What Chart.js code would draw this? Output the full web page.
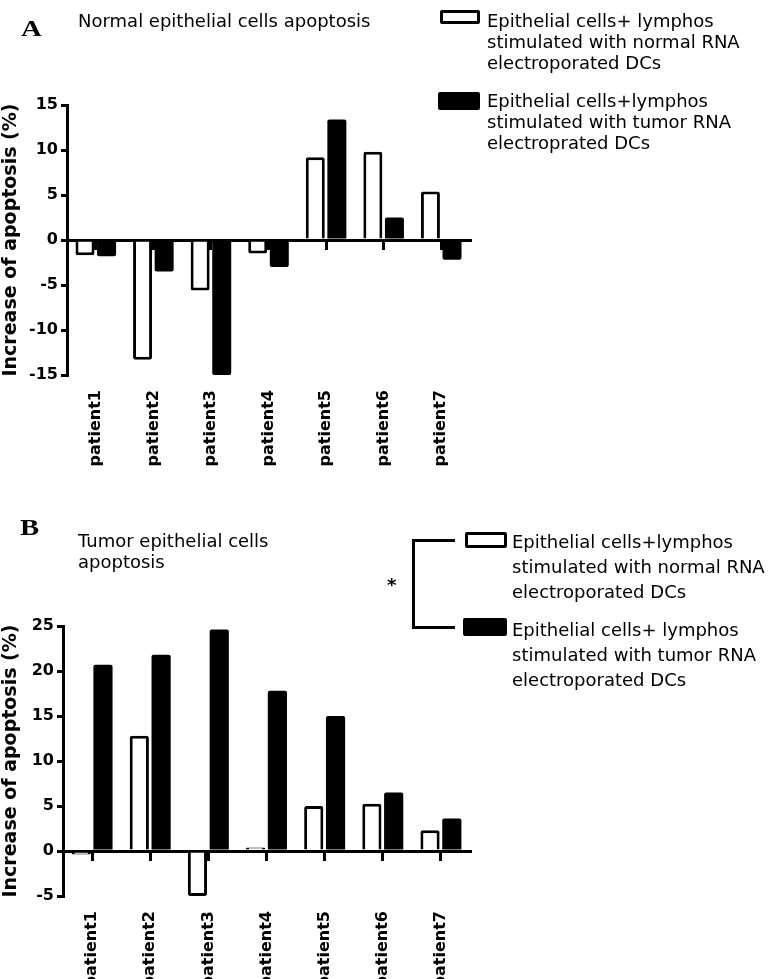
<!DOCTYPE html>
<html>
<head>
<meta charset="utf-8">
<script src="https://cdn.jsdelivr.net/npm/chart.js@4.4.1/dist/chart.umd.min.js"></script>
<style>
  body { margin: 0; background: #fff; }
  #page { position: relative; width: 774px; height: 979px; overflow: hidden; font-family: 'DejaVu Sans', sans-serif; color: #000; }
  .abs { position: absolute; }
  .letra { font-family: 'Liberation Serif', serif; font-weight: bold; font-size: 23px; line-height: 24px; transform: scaleX(1.25); transform-origin: left top; }
  .titulo { font-size: 18px; line-height: 21px; white-space: nowrap; }
  .leyenda { font-size: 18px; white-space: nowrap; }
  .caja { position: absolute; box-sizing: border-box; border: 3px solid #000; border-radius: 2px; background: #fff; }
  .caja.negra { background: #000; }
  .linea { position: absolute; background: #000; }
</style>
</head>
<body>
<div id="page">
  <div class="abs" style="left:0;top:0;width:774px;height:480px;"><canvas id="graficoA"></canvas></div>
  <div class="abs" style="left:0;top:500px;width:774px;height:479px;"><canvas id="graficoB"></canvas></div>

  <!-- Panel A -->
  <div class="abs letra" style="left:21px;top:17px;">A</div>
  <div class="abs titulo" style="left:78px;top:10px;">Normal epithelial cells apoptosis</div>
  <div class="caja" style="left:440px;top:10px;width:40px;height:14px;"></div>
  <div class="abs leyenda" style="left:487px;top:10px;line-height:21px;">Epithelial cells+ lymphos<br>stimulated with normal RNA<br>electroporated DCs</div>
  <div class="caja negra" style="left:438px;top:92px;width:42px;height:18px;"></div>
  <div class="abs leyenda" style="left:487px;top:90px;line-height:21px;">Epithelial cells+lymphos<br>stimulated with tumor RNA<br>electroprated DCs</div>

  <!-- Panel B -->
  <div class="abs letra" style="left:20px;top:516px;">B</div>
  <div class="abs titulo" style="left:78px;top:530px;">Tumor epithelial cells<br>apoptosis</div>
  <div class="linea" style="left:412px;top:539px;width:3px;height:90px;"></div>
  <div class="linea" style="left:412px;top:539px;width:43px;height:3px;"></div>
  <div class="linea" style="left:412px;top:626px;width:43px;height:3px;"></div>
  <div class="abs" style="left:387px;top:574px;font-size:18px;font-weight:bold;">*</div>
  <div class="caja" style="left:465px;top:532px;width:42px;height:16px;"></div>
  <div class="abs leyenda" style="left:512px;top:529px;line-height:25px;">Epithelial cells+lymphos<br>stimulated with normal RNA<br>electroporated DCs</div>
  <div class="caja negra" style="left:463px;top:618px;width:44px;height:18px;"></div>
  <div class="abs leyenda" style="left:512px;top:617px;line-height:25px;">Epithelial cells+ lymphos<br>stimulated with tumor RNA<br>electroporated DCs</div>
</div>

<script>
//---------------
// Datos
//---------------
const pacientes = ["patient1", "patient2", "patient3", "patient4", "patient5", "patient6", "patient7"];

// Panel A: apoptosis de células epiteliales normales
const normalesConARNNormal = [-1.7, -13.3, -5.6, -1.5, 9.2, 9.8, 5.4];
const normalesConARNTumor = [-1.8, -3.5, -15, -3.0, 13.4, 2.5, -2.2];

// Panel B: apoptosis de células epiteliales tumorales
const tumoralesConARNNormal = [-0.4, 12.8, -5.0, 0.4, 5.0, 5.25, 2.3];
const tumoralesConARNTumor = [20.7, 21.8, 24.6, 17.8, 15.0, 6.5, 3.6];

const ejeA = { min: -15, max: 15, paso: 5 };
const ejeB = { min: -5, max: 25, paso: 5 };

Chart.defaults.font.family = "'DejaVu Sans', sans-serif";
Chart.defaults.color = "#000";

//---------------
// Crear gráfico de barras
//---------------
function crearGrafico(id, blancas, negras, eje, caja) {
  return new Chart(document.getElementById(id), {
    type: 'bar',
    data: {
      labels: pacientes,
      datasets: [
        { data: blancas, xAxisID: 'x', backgroundColor: '#fff', borderColor: '#000', borderWidth: 3, borderRadius: 2,
          categoryPercentage: 0.75, barPercentage: 0.88 },
        { data: negras, xAxisID: 'x', backgroundColor: '#000', borderColor: '#000', borderWidth: 0, borderRadius: 2,
          categoryPercentage: 0.75, barPercentage: 0.88 }
      ]
    },
    options: {
      responsive: true,
      maintainAspectRatio: false,
      animation: false,
      layout: { padding: { left: 0, top: caja.arriba, right: caja.derecha, bottom: 0 } },
      plugins: { legend: { display: false }, tooltip: { enabled: false } },
      scales: {
        x: {
          type: 'category',
          offset: true,
          grid: { display: false, drawTicks: false },
          border: { display: false },
          ticks: { font: { size: 16, weight: 'bold' }, color: '#000', padding: 15, minRotation: 90, maxRotation: 90, autoSkip: false },
          afterFit: s => { s.height = caja.abajo; }
        },
        // línea del cero con marcas de categoría
        x2: {
          type: 'category',
          position: { y: 0 },
          offset: true,
          min: pacientes[0],
          max: pacientes[pacientes.length - 1],
          z: 1,
          ticks: { display: false },
          grid: { drawOnChartArea: false, offset: false, tickLength: 8, lineWidth: 3, color: '#000' },
          border: { display: true, width: 3, color: '#000' },
          afterFit: s => { s.height = 0; }
        },
        y: {
          min: eje.min,
          max: eje.max,
          ticks: { stepSize: eje.paso, font: { size: 16, weight: 'bold' }, color: '#000', padding: 3 },
          grid: { drawOnChartArea: false, tickLength: 6, lineWidth: 3, color: '#000' },
          border: { display: true, width: 3, color: '#000' },
          title: { display: true, text: 'Increase of apoptosis (%)', font: { size: 19, weight: 'bold' }, color: '#000', padding: 0 },
          afterFit: s => { s.width = caja.izquierda; }
        }
      }
    }
  });
}

const graficoA = crearGrafico('graficoA', normalesConARNNormal, normalesConARNTumor, ejeA,
  { izquierda: 67, arriba: 105, derecha: 304, abajo: 105 });
const graficoB = crearGrafico('graficoB', tumoralesConARNNormal, tumoralesConARNTumor, ejeB,
  { izquierda: 63, arriba: 126, derecha: 304, abajo: 83 });
</script>
</body>
</html>
